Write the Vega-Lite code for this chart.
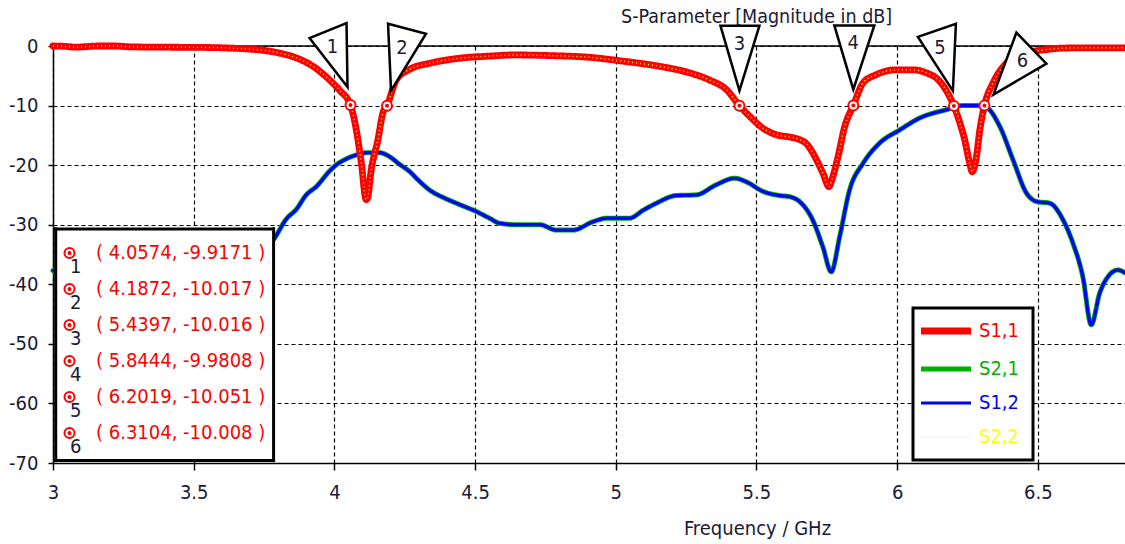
{
  "$schema": "https://vega.github.io/schema/vega-lite/v6.json",
  "width": 1072,
  "height": 417,
  "autosize": {"type": "none"},
  "padding": {"left": 53, "top": 46, "right": 0, "bottom": 81},
  "background": "white",
  "config": {
    "font": "DejaVu Sans Condensed, Noto Sans",
    "view": {"stroke": null},
    "axis": {
      "grid": true,
      "labelFontSize": 20,
      "labelColor": "#1a1a33",
      "titleFontSize": 20,
      "titleFontWeight": "normal",
      "titleColor": "#1a1a33",
      "domainColor": "black",
      "domainWidth": 1.5,
      "tickColor": "black",
      "tickWidth": 1.5,
      "gridColor": "black",
      "gridDash": [4, 3],
      "gridWidth": 1.2,
      "gridOpacity": 1
    }
  },
  "title": {
    "text": "S-Parameter [Magnitude in dB]",
    "anchor": "start",
    "frame": "group",
    "dx": 568,
    "offset": -9,
    "fontSize": 19.5,
    "fontWeight": "normal",
    "color": "#1a1a33"
  },
  "datasets": {
    "s11": [
      {"f": 3.0, "db": 0}, {"f": 3.04, "db": -0.05}, {"f": 3.08, "db": -0.2}, {"f": 3.12, "db": -0.1},
      {"f": 3.16, "db": 0}, {"f": 3.22, "db": 0}, {"f": 3.28, "db": -0.15}, {"f": 3.4, "db": -0.2},
      {"f": 3.55, "db": -0.25}, {"f": 3.63, "db": -0.35}, {"f": 3.72, "db": -0.6}, {"f": 3.76, "db": -0.8},
      {"f": 3.806, "db": -1.2}, {"f": 3.865, "db": -2.0}, {"f": 3.924, "db": -3.4}, {"f": 3.983, "db": -5.7},
      {"f": 4.02, "db": -7.5}, {"f": 4.0574, "db": -9.9171}, {"f": 4.078, "db": -14.1}, {"f": 4.096, "db": -19.7},
      {"f": 4.113, "db": -25.8}, {"f": 4.118, "db": -25.5}, {"f": 4.131, "db": -20.8}, {"f": 4.155, "db": -15.7},
      {"f": 4.172, "db": -11.3}, {"f": 4.1872, "db": -10.017}, {"f": 4.22, "db": -5.7}, {"f": 4.268, "db": -3.9},
      {"f": 4.339, "db": -2.9}, {"f": 4.456, "db": -2.0}, {"f": 4.55, "db": -1.7}, {"f": 4.64, "db": -1.5},
      {"f": 4.76, "db": -1.6}, {"f": 4.93, "db": -2.0}, {"f": 5.0, "db": -2.4}, {"f": 5.085, "db": -2.9},
      {"f": 5.167, "db": -3.5}, {"f": 5.262, "db": -4.5}, {"f": 5.333, "db": -5.7}, {"f": 5.393, "db": -7.3},
      {"f": 5.4397, "db": -10.016}, {"f": 5.476, "db": -11.8}, {"f": 5.523, "db": -13.8}, {"f": 5.571, "db": -14.9},
      {"f": 5.62, "db": -15.3}, {"f": 5.653, "db": -15.7}, {"f": 5.68, "db": -16.5}, {"f": 5.701, "db": -18.0},
      {"f": 5.736, "db": -21.3}, {"f": 5.758, "db": -23.6}, {"f": 5.768, "db": -22.5}, {"f": 5.79, "db": -18.6},
      {"f": 5.814, "db": -13.5}, {"f": 5.8444, "db": -9.9808}, {"f": 5.879, "db": -6.2}, {"f": 5.926, "db": -4.8},
      {"f": 5.997, "db": -4.0}, {"f": 6.056, "db": -4.0}, {"f": 6.104, "db": -4.5}, {"f": 6.151, "db": -5.9},
      {"f": 6.18, "db": -7.9}, {"f": 6.2019, "db": -10.051}, {"f": 6.223, "db": -12.9}, {"f": 6.24, "db": -15.7},
      {"f": 6.258, "db": -19.7}, {"f": 6.267, "db": -21.1}, {"f": 6.282, "db": -18.6}, {"f": 6.294, "db": -14.1},
      {"f": 6.3104, "db": -10.008}, {"f": 6.341, "db": -6.2}, {"f": 6.388, "db": -2.9}, {"f": 6.435, "db": -1.5},
      {"f": 6.483, "db": -0.9}, {"f": 6.53, "db": -0.6}, {"f": 6.588, "db": -0.35}, {"f": 6.7, "db": -0.3},
      {"f": 6.81, "db": -0.3}
    ],
    "s21": [
      {"f": 3.0, "db": -37.7}, {"f": 3.15, "db": -39.5}, {"f": 3.35, "db": -40.0}, {"f": 3.55, "db": -38.0},
      {"f": 3.7, "db": -35.0}, {"f": 3.782, "db": -32.6}, {"f": 3.83, "db": -29.0}, {"f": 3.865, "db": -27.4},
      {"f": 3.9, "db": -25.0}, {"f": 3.936, "db": -23.6}, {"f": 3.983, "db": -21.0}, {"f": 4.007, "db": -19.95},
      {"f": 4.04, "db": -19.0}, {"f": 4.078, "db": -18.3}, {"f": 4.12, "db": -17.9}, {"f": 4.16, "db": -17.9},
      {"f": 4.197, "db": -18.6}, {"f": 4.23, "db": -19.8}, {"f": 4.268, "db": -21.1}, {"f": 4.3, "db": -22.6},
      {"f": 4.339, "db": -24.2}, {"f": 4.39, "db": -25.5}, {"f": 4.434, "db": -26.4}, {"f": 4.505, "db": -27.8},
      {"f": 4.551, "db": -28.9}, {"f": 4.587, "db": -29.75}, {"f": 4.65, "db": -30.0}, {"f": 4.73, "db": -30.0},
      {"f": 4.789, "db": -30.9}, {"f": 4.848, "db": -30.9}, {"f": 4.919, "db": -29.5}, {"f": 4.97, "db": -28.9},
      {"f": 5.049, "db": -28.9}, {"f": 5.1, "db": -27.5}, {"f": 5.144, "db": -26.4}, {"f": 5.215, "db": -25.1},
      {"f": 5.286, "db": -25.0}, {"f": 5.357, "db": -23.3}, {"f": 5.423, "db": -22.2}, {"f": 5.464, "db": -22.8},
      {"f": 5.523, "db": -24.4}, {"f": 5.581, "db": -25.1}, {"f": 5.618, "db": -25.3}, {"f": 5.653, "db": -26.1},
      {"f": 5.7, "db": -29.2}, {"f": 5.736, "db": -33.7}, {"f": 5.766, "db": -37.9}, {"f": 5.796, "db": -32.0},
      {"f": 5.831, "db": -24.2}, {"f": 5.879, "db": -19.7}, {"f": 5.938, "db": -16.3}, {"f": 6.009, "db": -14.1},
      {"f": 6.08, "db": -12.1}, {"f": 6.175, "db": -10.7}, {"f": 6.234, "db": -10.0}, {"f": 6.305, "db": -10.0},
      {"f": 6.365, "db": -13.5}, {"f": 6.412, "db": -19.1}, {"f": 6.46, "db": -24.7}, {"f": 6.495, "db": -26.1},
      {"f": 6.543, "db": -26.4}, {"f": 6.59, "db": -29.2}, {"f": 6.625, "db": -33.1}, {"f": 6.66, "db": -38.7},
      {"f": 6.69, "db": -46.8}, {"f": 6.72, "db": -41.5}, {"f": 6.75, "db": -38.7}, {"f": 6.785, "db": -37.6},
      {"f": 6.81, "db": -38.1}
    ],
    "markers": [
      {"id": "1", "f": 4.0574, "db": -9.9171, "readout": "( 4.0574, -9.9171 )"},
      {"id": "2", "f": 4.1872, "db": -10.017, "readout": "( 4.1872, -10.017 )"},
      {"id": "3", "f": 5.4397, "db": -10.016, "readout": "( 5.4397, -10.016 )"},
      {"id": "4", "f": 5.8444, "db": -9.9808, "readout": "( 5.8444, -9.9808 )"},
      {"id": "5", "f": 6.2019, "db": -10.051, "readout": "( 6.2019, -10.051 )"},
      {"id": "6", "f": 6.3104, "db": -10.008, "readout": "( 6.3104, -10.008 )"}
    ]
  },
  "layer": [
    {
      "data": {"values": [{}]},
      "mark": {"type": "rule", "color": "black", "strokeWidth": 1.5},
      "encoding": {"x": {"datum": 3, "type": "quantitative", "scale": {"domain": [3, 6.81], "nice": false, "zero": false}}, "x2": {"datum": 6.81}, "y": {"datum": 0, "type": "quantitative", "scale": {"domain": [-70, 0], "nice": false}}}
    },
    {
      "encoding": {
        "x": {
          "field": "f", "type": "quantitative",
          "scale": {"domain": [3, 6.81], "nice": false, "zero": false},
          "axis": {"title": "Frequency / GHz", "grid": true, "values": [3, 3.5, 4, 4.5, 5, 5.5, 6, 6.5], "labelExpr": "'' + datum.value", "tickSize": 7, "labelPadding": 12, "titleX": 704, "titleY": 71, "titleAlign": "center", "titleBaseline": "alphabetic", "labelFlush": false, "labelOverlap": false}
        },
        "y": {
          "field": "db", "type": "quantitative",
          "scale": {"domain": [-70, 0], "nice": false},
          "axis": {"title": null, "grid": true, "values": [-70, -60, -50, -40, -30, -20, -10, 0], "labelExpr": "'' + datum.value", "tickSize": 5, "labelPadding": 10, "labelOverlap": false}
        }
      },
      "layer": [
        {
          "data": {"name": "s21"},
          "mark": {"type": "line", "interpolate": "monotone", "strokeCap": "round", "strokeJoin": "round"},
          "encoding": {
            "color": {"datum": "S2,1", "type": "nominal", "scale": {"domain": ["S1,1", "S2,1", "S1,2", "S2,2"], "range": ["#ff0000", "#00b000", "#0000ff", "#ffff00"]},
              "legend": {"title": null, "orient": "none", "legendX": 860, "legendY": 262, "padding": 13, "strokeColor": "black", "fillColor": "white", "rowPadding": 14, "labelFontSize": 20, "labelOffset": 23, "symbolType": "M -10 0 L 10 0", "symbolSize": 25, "symbolOffset": 10, "encode": {"legend": {"update": {"strokeWidth": {"value": 3}}}, "labels": {"update": {"fill": {"scale": "color", "field": "value"}}}}}},
            "strokeWidth": {"datum": "S2,1", "type": "nominal", "scale": {"type": "point", "padding": 0, "domain": ["S1,1", "S2,1", "S1,2", "S2,2"], "range": [6.8, 1.4]}},
            "strokeDash": {"datum": "S2,1", "type": "nominal", "scale": {"domain": ["S1,1", "S2,1", "S1,2", "S2,2"], "range": [[1, 0], [1, 0], [1, 0], [1, 3]]}}
          }
        },
        {
          "data": {"name": "s21"},
          "mark": {"type": "line", "interpolate": "monotone", "strokeCap": "round", "strokeJoin": "round"},
          "encoding": {
            "color": {"datum": "S1,2", "type": "nominal", "scale": {"domain": ["S1,1", "S2,1", "S1,2", "S2,2"], "range": ["#ff0000", "#00b000", "#0000ff", "#ffff00"]}},
            "strokeWidth": {"datum": "S1,2", "type": "nominal", "scale": {"type": "point", "padding": 0, "domain": ["S1,1", "S2,1", "S1,2", "S2,2"], "range": [6.8, 1.4]}},
            "strokeDash": {"datum": "S1,2", "type": "nominal", "scale": {"domain": ["S1,1", "S2,1", "S1,2", "S2,2"], "range": [[1, 0], [1, 0], [1, 0], [1, 3]]}}
          }
        },
        {
          "data": {"name": "s11"},
          "mark": {"type": "line", "interpolate": "monotone", "strokeCap": "round", "strokeJoin": "round"},
          "encoding": {
            "color": {"datum": "S1,1", "type": "nominal", "scale": {"domain": ["S1,1", "S2,1", "S1,2", "S2,2"], "range": ["#ff0000", "#00b000", "#0000ff", "#ffff00"]}},
            "strokeWidth": {"datum": "S1,1", "type": "nominal", "scale": {"type": "point", "padding": 0, "domain": ["S1,1", "S2,1", "S1,2", "S2,2"], "range": [6.8, 1.4]}},
            "strokeDash": {"datum": "S1,1", "type": "nominal", "scale": {"domain": ["S1,1", "S2,1", "S1,2", "S2,2"], "range": [[1, 0], [1, 0], [1, 0], [1, 3]]}}
          }
        },
        {
          "data": {"name": "s11"},
          "mark": {"type": "line", "interpolate": "monotone", "strokeJoin": "round"},
          "encoding": {
            "color": {"datum": "S2,2", "type": "nominal", "scale": {"domain": ["S1,1", "S2,1", "S1,2", "S2,2"], "range": ["#ff0000", "#00b000", "#0000ff", "#ffff00"]}},
            "strokeWidth": {"datum": "S2,2", "type": "nominal", "scale": {"type": "point", "padding": 0, "domain": ["S1,1", "S2,1", "S1,2", "S2,2"], "range": [6.8, 1.4]}},
            "strokeDash": {"datum": "S2,2", "type": "nominal", "scale": {"domain": ["S1,1", "S2,1", "S1,2", "S2,2"], "range": [[1, 0], [1, 0], [1, 0], [1, 3]]}}
          }
        }
      ]
    },
    {
      "data": {"values": [{}]},
      "mark": {"type": "rule", "color": "white", "strokeWidth": 230, "strokeCap": "butt"},
      "encoding": {"x": {"datum": 3.0096, "type": "quantitative"}, "x2": {"datum": 3.784}, "y": {"datum": -50.15, "type": "quantitative"}}
    },
    {
      "data": {"values": [{}]},
      "mark": {"type": "rule", "color": "black", "strokeWidth": 3, "strokeCap": "square"},
      "encoding": {"x": {"datum": 3.0096, "type": "quantitative"}, "x2": {"datum": 3.784}, "y": {"datum": -30.7, "type": "quantitative"}}
    },
    {
      "data": {"values": [{}]},
      "mark": {"type": "rule", "color": "black", "strokeWidth": 3, "strokeCap": "square"},
      "encoding": {"x": {"datum": 3.0096, "type": "quantitative"}, "x2": {"datum": 3.784}, "y": {"datum": -69.6, "type": "quantitative"}}
    },
    {
      "data": {"values": [{}]},
      "mark": {"type": "rule", "color": "black", "strokeWidth": 3, "strokeCap": "square"},
      "encoding": {"x": {"datum": 3.0096, "type": "quantitative"}, "y": {"datum": -30.7, "type": "quantitative"}, "y2": {"datum": -69.6}}
    },
    {
      "data": {"values": [{}]},
      "mark": {"type": "rule", "color": "black", "strokeWidth": 3, "strokeCap": "square"},
      "encoding": {"x": {"datum": 3.784, "type": "quantitative"}, "y": {"datum": -30.7, "type": "quantitative"}, "y2": {"datum": -69.6}}
    },
    {
      "data": {"name": "markers"},
      "encoding": {
        "x": {
          "field": "f", "type": "quantitative",
          "scale": {"domain": [3, 6.81], "nice": false, "zero": false},
          "axis": {"title": "Frequency / GHz", "grid": true, "values": [3, 3.5, 4, 4.5, 5, 5.5, 6, 6.5], "labelExpr": "'' + datum.value", "tickSize": 7, "labelPadding": 12, "titleX": 704, "titleY": 71, "titleAlign": "center", "titleBaseline": "alphabetic", "labelFlush": false, "labelOverlap": false}
        },
        "y": {
          "field": "db", "type": "quantitative",
          "scale": {"domain": [-70, 0], "nice": false},
          "axis": {"title": null, "grid": true, "values": [-70, -60, -50, -40, -30, -20, -10, 0], "labelExpr": "'' + datum.value", "tickSize": 5, "labelPadding": 10, "labelOverlap": false}
        }
      },
      "layer": [
        {
          "mark": {"type": "point", "shape": "M -1 0 A 1 1 0 1 0 1 0 A 1 1 0 1 0 -1 0 Z M -0.2 0 A 0.2 0.2 0 1 0 0.2 0 A 0.2 0.2 0 1 0 -0.2 0 Z", "size": 100, "filled": false, "fill": "white", "fillOpacity": 1, "strokeWidth": 2, "opacity": 1},
          "encoding": {
            "stroke": {"field": "readout", "type": "nominal", "scale": {"range": ["#ff0000"]},
              "legend": {"title": null, "orient": "none", "legendX": 6.5, "legendY": 197, "padding": 0, "strokeColor": null, "fillColor": null, "rowPadding": 16, "labelFontSize": 20, "labelColor": "#ff0000", "labelOffset": 16.5, "labelLimit": 0, "symbolType": "M -1 0 A 1 1 0 1 0 1 0 A 1 1 0 1 0 -1 0 Z M -0.2 0 A 0.2 0.2 0 1 0 0.2 0 A 0.2 0.2 0 1 0 -0.2 0 Z", "symbolSize": 100, "symbolStrokeWidth": 2,
                "encode": {"symbols": {"update": {"fill": {"value": "white"}, "fillOpacity": {"value": 1}, "stroke": {"value": "#ff0000"}, "opacity": {"value": 1}}}}}}
          }
        },
        {
          "mark": {"type": "point", "size": 4, "filled": true, "fill": "white", "stroke": "black", "strokeWidth": 2.5, "opacity": 1, "strokeJoin": "miter"},
          "encoding": {
            "shape": {"field": "id", "type": "nominal",
              "scale": {"domain": ["1", "2", "3", "4", "5", "6"], "range": ["M -41 -67 L -4 -82 L -3 -18 Z", "M 1 -82 L 39 -72 L 4 -15 Z", "M -19 -80 L 20 -80 L 0 -15 Z", "M -19 -80 L 21 -80 L 0 -16 Z", "M -36 -69 L 2 -82 L -1 -15 Z", "M 32 -73 L 62 -42 L 9 -11 Z"]},
              "legend": {"title": null, "orient": "none", "legendX": -3, "legendY": 211, "padding": 0, "rowPadding": 16, "labelFontSize": 20, "labelColor": "#1a1a33", "labelOffset": 0, "symbolSize": 0, "symbolOpacity": 0, "symbolStrokeWidth": 0, "zindex": 2,
                "encode": {"symbols": {"update": {"opacity": {"value": 0}, "size": {"value": 0}}}}}}
          }
        },
        {"transform": [{"filter": "datum.id === '1'"}], "mark": {"type": "text", "dx": -18, "dy": -58, "fontSize": 20, "color": "#1a1a33"}, "encoding": {"text": {"field": "id"}}},
        {"transform": [{"filter": "datum.id === '2'"}], "mark": {"type": "text", "dx": 15, "dy": -58, "fontSize": 20, "color": "#1a1a33"}, "encoding": {"text": {"field": "id"}}},
        {"transform": [{"filter": "datum.id === '3'"}], "mark": {"type": "text", "dx": 0, "dy": -62, "fontSize": 20, "color": "#1a1a33"}, "encoding": {"text": {"field": "id"}}},
        {"transform": [{"filter": "datum.id === '4'"}], "mark": {"type": "text", "dx": 0, "dy": -62, "fontSize": 20, "color": "#1a1a33"}, "encoding": {"text": {"field": "id"}}},
        {"transform": [{"filter": "datum.id === '5'"}], "mark": {"type": "text", "dx": -14, "dy": -58, "fontSize": 20, "color": "#1a1a33"}, "encoding": {"text": {"field": "id"}}},
        {"transform": [{"filter": "datum.id === '6'"}], "mark": {"type": "text", "dx": 38, "dy": -45, "fontSize": 20, "color": "#1a1a33"}, "encoding": {"text": {"field": "id"}}}
      ]
    }
  ]
}
